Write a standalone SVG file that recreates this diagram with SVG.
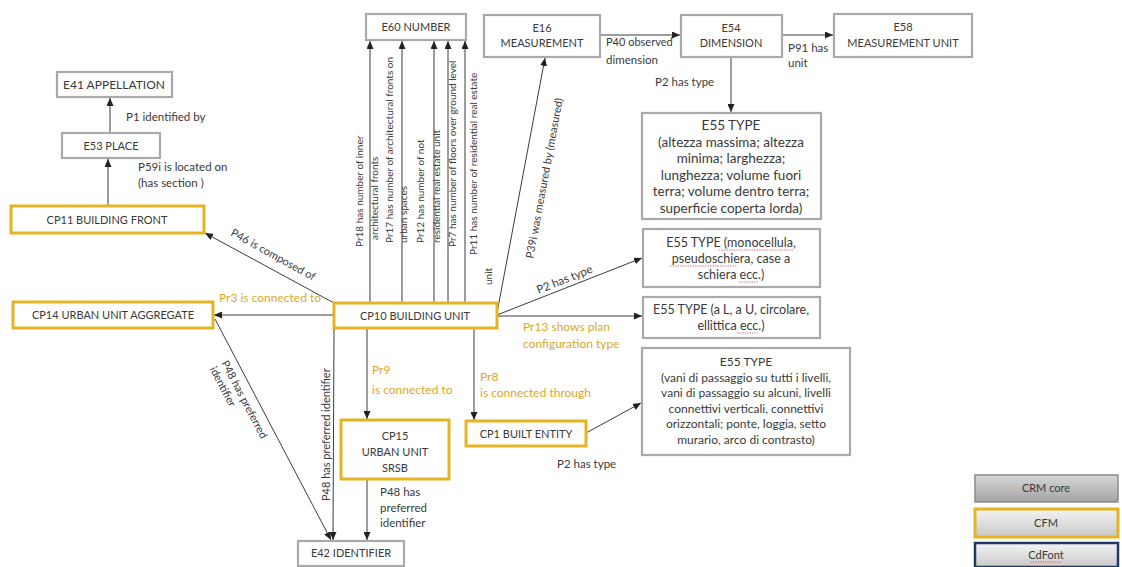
<svg xmlns="http://www.w3.org/2000/svg" width="1122" height="567" viewBox="0 0 1122 567">
  <style>
    text { font-family: Lato, "Liberation Sans", "DejaVu Sans", sans-serif; fill: #3a3a3a; }
    .bt { font-size: 11px; text-anchor: middle; }
    .tx { font-size: 12px; text-anchor: middle; }
    .tl { font-size: 13.5px; text-anchor: middle; }
    .tm { font-size: 12.5px; text-anchor: middle; }
    .lb { font-size: 11.5px; }
    .vl { font-size: 10px; }
    .dl { font-size: 11px; }
    .yl { font-size: 12px; fill: #dba72c; }
    .gray { fill: #ffffff; stroke: #a9a9a9; stroke-width: 2.2; }
    .gold { fill: #ffffff; stroke: #e6b422; stroke-width: 3; }
    .cn line { stroke: #3c3c3c; stroke-width: 1; fill: none; marker-end: url(#arr); }
    .sq { stroke: #e05555; stroke-width: 0.8; stroke-dasharray: 1.5 1; fill: none; }
  </style>
  <defs>
    <marker id="arr" viewBox="0 0 8 7" refX="8" refY="3.5" markerWidth="8" markerHeight="7" markerUnits="userSpaceOnUse" orient="auto">
      <path d="M0,0 L8,3.5 L0,7 z" fill="#222"/>
    </marker>
    <linearGradient id="gCore" x1="0" y1="0" x2="0" y2="1">
      <stop offset="0" stop-color="#d6d6d6"/>
      <stop offset="1" stop-color="#a4a4a4"/>
    </linearGradient>
    <linearGradient id="gLight" x1="0" y1="0" x2="0" y2="1">
      <stop offset="0" stop-color="#f4f4f4"/>
      <stop offset="1" stop-color="#c9c9c9"/>
    </linearGradient>
  </defs>

  <rect width="1122" height="567" fill="#ffffff"/>

  <!-- connectors -->
  <g id="connectors" class="cn">
    <line x1="110" y1="133" x2="110" y2="98"/>
    <line x1="108" y1="206" x2="108" y2="159"/>
    <line x1="334" y1="303" x2="205" y2="233"/>
    <line x1="334" y1="315" x2="214" y2="315"/>
    <line x1="370" y1="303" x2="370" y2="41"/>
    <line x1="402" y1="303" x2="402" y2="41"/>
    <line x1="434" y1="303" x2="434" y2="41"/>
    <line x1="448" y1="303" x2="448" y2="41"/>
    <line x1="465" y1="303" x2="465" y2="41"/>
    <line x1="497" y1="313" x2="545" y2="58"/>
    <line x1="497" y1="315" x2="642" y2="258"/>
    <line x1="497" y1="316" x2="642" y2="316"/>
    <line x1="367" y1="328" x2="367" y2="419"/>
    <line x1="474" y1="328" x2="474" y2="420"/>
    <line x1="586" y1="433" x2="641" y2="403"/>
    <line x1="367" y1="479" x2="367" y2="540"/>
    <line x1="334" y1="328" x2="333" y2="540"/>
    <line x1="215" y1="319" x2="331" y2="540"/>
    <line x1="600" y1="35" x2="680" y2="35"/>
    <line x1="782" y1="35" x2="833" y2="35"/>
    <line x1="731" y1="57" x2="731" y2="112"/>
  </g>

  <!-- connector labels -->
  <g id="labels">
    <text class="lb" x="126" y="121">P1 identified by</text>
    <text class="lb" x="138" y="171">P59i is located on</text>
    <text class="lb" x="138" y="187">(has section )</text>
    <text class="dl" transform="translate(230,235) rotate(29)">P46 is composed of</text>
    <text class="yl" x="219" y="302">Pr3 is connected to</text>

    <text class="vl" transform="translate(363,247) rotate(-90)">Pr18 has number of inner</text>
    <text class="vl" transform="translate(378,240) rotate(-90)">architectural fronts</text>
    <text class="vl" transform="translate(393,243) rotate(-90)">Pr17 has number of architectural fronts on</text>
    <text class="vl" transform="translate(407,243) rotate(-90)">urban spaces</text>
    <text class="vl" transform="translate(424,243) rotate(-90)">Pr12 has number of not</text>
    <text class="vl" transform="translate(440,243) rotate(-90)">residential real estate  unit</text>
    <text class="vl" transform="translate(456,247) rotate(-90)">Pr7 has number of floors over ground level</text>
    <text class="vl" transform="translate(477,255) rotate(-90)">Pr11 has number of residential real estate</text>
    <text class="vl" transform="translate(492,285) rotate(-90)">unit</text>

    <text class="dl" text-anchor="middle" transform="translate(548,179) rotate(-79.5)">P39i was measured by (measured)</text>
    <text class="lb" text-anchor="middle" transform="translate(566,283) rotate(-21.7)">P2 has type</text>
    <text class="yl" x="523" y="331">Pr13 shows plan</text>
    <text class="yl" x="523" y="348">configuration type</text>

    <text class="dl" x="606" y="46">P40 observed</text>
    <text class="lb" x="606" y="64">dimension</text>
    <text class="lb" x="788" y="52">P91 has</text>
    <text class="lb" x="788" y="67">unit</text>
    <text class="lb" x="655" y="86">P2 has type</text>

    <text class="yl" x="372" y="374">Pr9</text>
    <text class="yl" x="372" y="394">is connected to</text>
    <text class="yl" x="480" y="381">Pr8</text>
    <text class="yl" x="480" y="397">is connected through</text>
    <text class="lb" x="557" y="468">P2 has type</text>

    <text class="lb" x="380" y="496">P48 has</text>
    <text class="lb" x="380" y="512">preferred</text>
    <text class="lb" x="380" y="527">identifier</text>
    <text class="dl" transform="translate(330,501) rotate(-90)">P48 has preferred identifier</text>
    <g transform="translate(221,363) rotate(62.3)">
      <text class="dl" x="0" y="0">P48 has preferred</text>
      <text class="dl" x="0" y="13">identifier</text>
    </g>
  </g>

  <!-- nodes -->
  <g id="E60">
    <rect class="gray" x="366" y="14" width="100" height="26"/>
    <text class="bt" x="416" y="31">E60 NUMBER</text>
  </g>
  <g id="E16">
    <rect class="gray" x="484" y="15" width="116" height="42"/>
    <text class="bt" x="542" y="32">E16</text>
    <text class="bt" x="542" y="47">MEASUREMENT</text>
  </g>
  <g id="E54">
    <rect class="gray" x="681" y="15" width="101" height="42"/>
    <text class="bt" x="731" y="32">E54</text>
    <text class="bt" x="731" y="47">DIMENSION</text>
  </g>
  <g id="E58">
    <rect class="gray" x="834" y="14" width="138" height="43"/>
    <text class="bt" x="903" y="31">E58</text>
    <text class="bt" x="903" y="47">MEASUREMENT UNIT</text>
  </g>
  <g id="E41">
    <rect class="gray" x="57" y="72" width="115" height="25"/>
    <text class="bt" x="114" y="89" style="font-size:12px">E41 APPELLATION</text>
  </g>
  <g id="E53">
    <rect class="gray" x="62" y="133" width="98" height="25"/>
    <text class="bt" x="111" y="150">E53 PLACE</text>
  </g>
  <g id="CP11">
    <rect class="gold" x="11" y="206" width="193" height="27"/>
    <text class="bt" x="107" y="224">CP11 BUILDING FRONT</text>
  </g>
  <g id="CP14">
    <rect class="gold" x="13" y="302" width="200" height="26"/>
    <text class="bt" x="113" y="319">CP14 URBAN UNIT AGGREGATE</text>
  </g>
  <g id="CP10">
    <rect class="gold" x="334" y="303" width="163" height="25"/>
    <text class="bt" x="415" y="320">CP10 BUILDING UNIT</text>
  </g>
  <g id="CP15">
    <rect class="gold" x="341" y="420" width="108" height="59"/>
    <text class="bt" x="395" y="440">CP15</text>
    <text class="bt" x="395" y="456">URBAN UNIT</text>
    <text class="bt" x="395" y="472">SRSB</text>
  </g>
  <g id="CP1">
    <rect class="gold" x="466" y="421" width="120" height="25"/>
    <text class="bt" x="526" y="438">CP1 BUILT ENTITY</text>
  </g>
  <g id="E42">
    <rect class="gray" x="298" y="541" width="106" height="25"/>
    <text class="bt" x="351" y="557">E42 IDENTIFIER</text>
  </g>
  <g id="E55-dimension-type">
    <rect class="gray" x="642" y="113" width="179" height="106"/>
    <text class="tl" x="731" y="130">E55 TYPE</text>
    <text class="tl" x="731" y="147">(altezza massima; altezza</text>
    <text class="tl" x="731" y="163">minima; larghezza;</text>
    <text class="tl" x="731" y="180">lunghezza; volume fuori</text>
    <text class="tl" x="731" y="196">terra; volume dentro terra;</text>
    <text class="tl" x="731" y="213">superficie coperta lorda)</text>
  </g>
  <g id="E55-unit-type">
    <rect class="gray" x="643" y="229" width="177" height="58"/>
    <text class="tm" x="731" y="247">E55 TYPE (monocellula,</text>
    <text class="tm" x="731" y="263">pseudoschiera,  case a</text>
    <text class="tm" x="731" y="279">schiera ecc.)</text>
    <path class="sq" d="M719,250 H793 M670,266 H737 M739,282 H758"/>
  </g>
  <g id="E55-plan-type">
    <rect class="gray" x="643" y="297" width="177" height="41"/>
    <text class="tm" x="731" y="314">E55 TYPE (a L, a U, circolare,</text>
    <text class="tm" x="731" y="330">ellittica ecc.)</text>
    <path class="sq" d="M737,333 H758"/>
  </g>
  <g id="E55-built-entity-type">
    <rect class="gray" x="642" y="348" width="208" height="107"/>
    <text class="tx" x="746" y="366">E55 TYPE</text>
    <text class="tx" x="746" y="382">(vani di passaggio su tutti i livelli,</text>
    <text class="tx" x="746" y="397">vani di passaggio su alcuni, livelli</text>
    <text class="tx" x="746" y="413">connettivi verticali, connettivi</text>
    <text class="tx" x="746" y="428">orizzontali; ponte, loggia, setto</text>
    <text class="tx" x="746" y="444">murario, arco di contrasto)</text>
  </g>

  <!-- legend -->
  <g id="legend">
    <rect x="975" y="475" width="143" height="27" fill="url(#gCore)" stroke="#8a8a8a" stroke-width="1.5"/>
    <text class="bt" x="1046" y="492">CRM core</text>
    <rect x="975" y="509" width="143" height="28" fill="url(#gLight)" stroke="#e6b422" stroke-width="3"/>
    <text class="bt" x="1046" y="527">CFM</text>
    <rect x="975" y="543" width="143" height="24" fill="url(#gLight)" stroke="#1f3864" stroke-width="2.5"/>
    <text class="bt" x="1046" y="559">CdFont</text>
    <path class="sq" d="M1030,562 H1062"/>
  </g>
</svg>
